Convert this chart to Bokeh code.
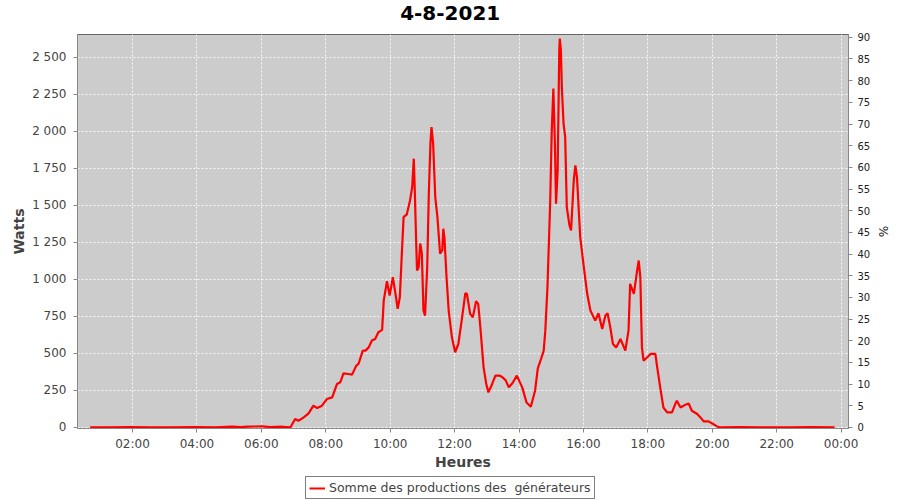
from bokeh.plotting import figure
from bokeh.layouts import column
from bokeh.models import (Range1d, LinearAxis, FixedTicker, Legend, LegendItem,
                          Label, ColumnDataSource)
from bokeh.embed import file_html
from bokeh.resources import INLINE

title_text = "4-8-2021"
series_name = "Somme des productions des  générateurs"

times = ["00:41","01:18","01:56","02:33","03:10","03:57","04:34","05:06","05:21","05:36",
         "06:02","06:17","06:39","06:54","07:03","07:09","07:19","07:28","07:37","07:44",
         "07:53","08:02","08:12","08:21","08:27","08:33","08:42","08:49","08:57","09:01",
         "09:09","09:14","09:20","09:26","09:32","09:38","09:45","09:48","09:54","09:59",
         "10:05","10:09","10:14","10:18","10:22","10:25","10:31","10:37","10:41","10:44",
         "10:46","10:48","10:50","10:53","10:56","10:59","11:02","11:05","11:09","11:12",
         "11:15","11:17","11:20","11:24","11:28","11:33","11:37","11:39","11:41","11:45",
         "11:49","11:55","12:01","12:07","12:14","12:20","12:23","12:29","12:34","12:40",
         "12:44","12:48","12:54","12:59","13:03","13:10","13:16","13:24","13:28","13:35",
         "13:41","13:48","13:56","14:06","14:14","14:22","14:30","14:35","14:40","14:46",
         "14:49","14:53","14:58","15:01","15:04","15:07","15:09","15:12","15:15","15:16",
         "15:18","15:20","15:23","15:26","15:29","15:34","15:37","15:42","15:45","15:48",
         "15:54","16:00","16:07","16:13","16:22","16:28","16:35","16:41","16:45","16:50",
         "16:55","17:01","17:09","17:18","17:24","17:27","17:34","17:40","17:43","17:46",
         "17:49","17:52","17:59","18:05","18:14","18:17","18:23","18:29","18:36","18:45",
         "18:51","18:54","19:01","19:10","19:16","19:22","19:32","19:38","19:44","19:53",
         "20:00","20:09","20:15","20:52","21:30","22:26","23:03","23:48"]

watts = [0, 0, 2, 0, 1, 3, 0, 6, 2, 6,
         7, 2, 5, 0, 57, 45, 68, 95, 147, 131,
         147, 192, 203, 294, 305, 365, 361, 357, 418, 429,
         519, 519, 541, 587, 598, 643, 659, 857, 988, 891,
         1015, 925, 801, 880, 1196, 1421, 1440, 1534, 1624, 1816,
         1582, 1311, 1060, 1083, 1243, 1175, 790, 756, 1083, 1582,
         1920, 2030, 1920, 1557, 1421, 1175, 1196, 1343, 1286, 1015,
         790, 609, 508, 564, 744, 907, 903, 767, 744, 853,
         835, 677, 406, 294, 237, 294, 350, 350, 343, 320,
         271, 300, 350, 271, 169, 140, 250, 400, 451, 519,
         654, 947, 1512, 2008, 2290, 1895, 1512, 1737, 2549, 2628,
         2549, 2279, 2053, 1963, 1489, 1365, 1331, 1670, 1771, 1692,
         1286, 1106, 903, 790, 722, 772, 666, 756, 772, 677,
         564, 541, 598, 519, 654, 970, 903, 1060, 1128, 1015,
         541, 451, 474, 497, 497, 418, 271, 135, 102, 102,
         158, 181, 135, 154, 162, 113, 91, 68, 41, 41,
         27, 7, 0, 2, 0, 1, 3, 0]

x_tick_hours = [2, 4, 6, 8, 10, 12, 14, 16, 18, 20, 22, 24]
x_tick_labels = ["02:00", "04:00", "06:00", "08:00", "10:00", "12:00",
                 "14:00", "16:00", "18:00", "20:00", "22:00", "00:00"]
watt_ticks = [0, 250, 500, 750, 1000, 1250, 1500, 1750, 2000, 2250, 2500]
watt_labels = ["0", "250", "500", "750", "1 000", "1 250", "1 500", "1 750",
               "2 000", "2 250", "2 500"]
pct_ticks = [0, 5, 10, 15, 20, 25, 30, 35, 40, 45, 50, 55, 60, 65, 70, 75, 80, 85, 90]

hours = [int(s[:2]) + int(s[3:]) / 60 for s in times]
src = ColumnDataSource(dict(h=hours, w=watts))

FONT = "DejaVu Sans"
RED = "#ff0000"
X_RANGE = (0.292, 24.23)


def strip(height):
    s = figure(width=900, height=height, output_backend="svg", toolbar_location=None,
               x_range=Range1d(*X_RANGE), y_range=Range1d(5000, 6000),
               x_axis_location=None, y_axis_location=None,
               min_border_left=0, min_border_right=0, min_border_top=0,
               min_border_bottom=0, outline_line_color=None,
               background_fill_color="white", border_fill_color="white")
    s.xgrid.visible = False
    s.ygrid.visible = False
    return s


# title strip
t = strip(28)
t.add_layout(Label(x=372.7, y=16, x_units="screen", y_units="screen",
                   text=title_text, text_align="center", text_baseline="middle",
                   text_font=FONT, text_font_size="20px", text_font_style="bold",
                   text_color="black"))

# main chart
p = figure(width=900, height=446, output_backend="svg", toolbar_location=None,
           x_range=Range1d(*X_RANGE), y_range=Range1d(-7, 2655),
           min_border_left=77, min_border_right=52, min_border_top=6,
           min_border_bottom=46, background_fill_color="#cccccc",
           border_fill_color="white", outline_line_color="#666666")
p.extra_y_ranges = {"pct": Range1d(-0.25, 90.65)}

r = p.line("h", "w", source=src, line_color=RED, line_width=2.2)

xa = p.xaxis[0]
xa.ticker = FixedTicker(ticks=x_tick_hours)
xa.major_label_overrides = {h: l for h, l in zip(x_tick_hours, x_tick_labels)}
xa.axis_label = "Heures"
ya = p.yaxis[0]
ya.ticker = FixedTicker(ticks=watt_ticks)
ya.major_label_overrides = {v: l for v, l in zip(watt_ticks, watt_labels)}
ya.axis_label = "Watts"
ra = LinearAxis(y_range_name="pct", ticker=FixedTicker(ticks=pct_ticks), axis_label="%")
p.add_layout(ra, "right")

for ax in (xa, ya, ra):
    ax.major_label_text_font = FONT
    ax.major_label_text_font_size = "12px"
    ax.major_label_text_color = "#444444"
    ax.axis_label_text_font = FONT
    ax.axis_label_text_font_size = "14px"
    ax.axis_label_text_font_style = "bold"
    ax.axis_label_text_color = "#444444"
    ax.axis_line_color = "#888888"
    ax.major_tick_line_color = "#888888"
    ax.major_tick_out = 4
    ax.major_tick_in = 0
    ax.minor_tick_out = 0
    ax.minor_tick_in = 0
xa.major_label_standoff = 4
xa.axis_label_standoff = 0
ya.major_label_standoff = 7
ya.axis_label_standoff = 2
ra.major_label_text_font_size = "10px"
ra.major_label_text_color = "#222222"
ra.major_label_standoff = 5
ra.axis_label_text_font_style = "normal"
ra.axis_label_text_font_size = "12px"
ra.axis_label_text_color = "#222222"
ra.axis_label_standoff = 3

for g in (p.xgrid[0], p.ygrid[0]):
    g.grid_line_color = "white"
    g.grid_line_alpha = 0.85
    g.grid_line_dash = "2 2"
    g.grid_line_width = 1

# legend strip (its line is drawn off-range, only the legend shows)
q = strip(26)
lr = q.line("h", "w", source=src, line_color=RED, line_width=2)
legend = Legend(items=[LegendItem(label=series_name, renderers=[lr])],
                location=(228, 1), orientation="horizontal",
                border_line_color="black", border_line_width=1,
                background_fill_color="white", background_fill_alpha=1,
                label_text_font=FONT, label_text_font_size="12.5px",
                label_text_color="#444444", padding=3, spacing=0, margin=0,
                glyph_width=16, glyph_height=14, label_height=14,
                label_standoff=4)
q.add_layout(legend)

open("out.html", "w").write(file_html(column(t, p, q, spacing=0), INLINE))
